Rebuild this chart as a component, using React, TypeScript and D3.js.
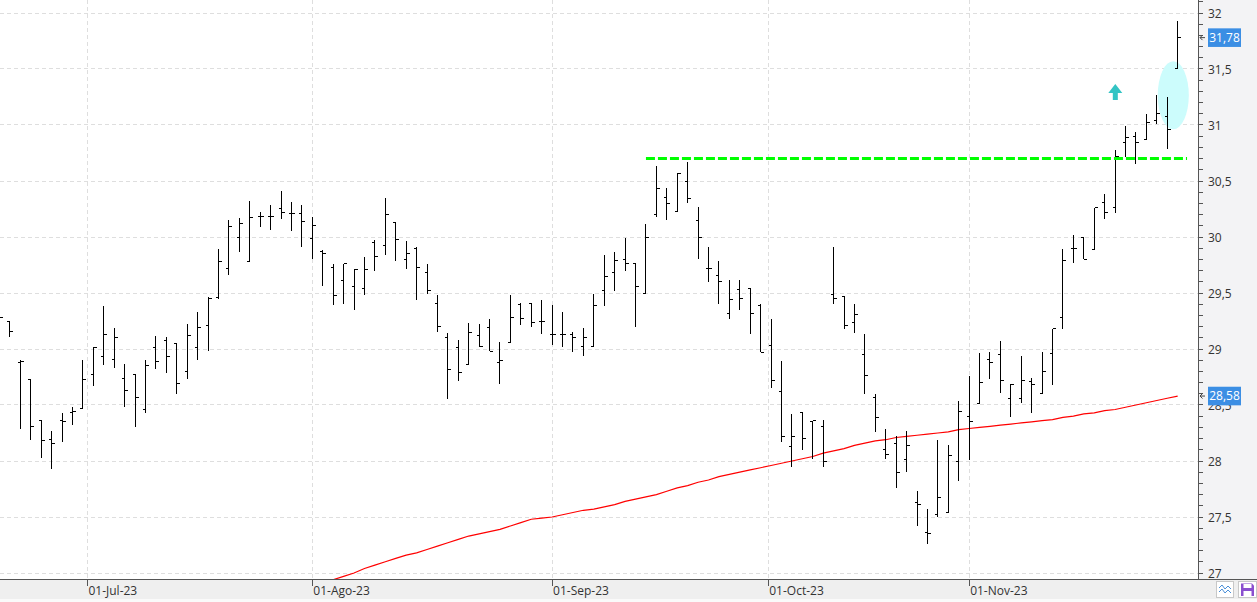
import React from "react";
import * as d3 from "d3";

// OHLC values, one per trading bar (index 0 is partially cut at the left edge)
const OPEN = [
  29.28, 29.25, 28.88, 28.73, 28.36, 28.19, 28.36, 28.43, 28.47, 28.77,
  28.93, 28.91, 28.74, 28.77, 28.46, 29.01, 29.08, 29.05, 28.8, 29.01,
  29.21, 29.46, 29.72, 30.0, 29.78, 30.18, 30.18, 30.25, 30.21, 30.21,
  29.99, 29.87, 29.73, 29.61, 29.56, 29.54, 29.95, 29.92, 30.13, 29.8,
  29.9, 29.68, 29.41, 29.1, 29.01, 28.86, 29.12, 29.19, 28.88, 29.06,
  29.4, 29.41, 29.25, 29.13, 29.13, 29.13, 29.02, 29.02, 29.52, 29.68,
  29.8, 29.76, 29.5, 30.2, 30.35, 30.23, 30.5, 30.15, 29.72, 29.66,
  29.32, 29.53, 29.54, 29.39, 29.03, 28.62, 28.13, 28.43, 28.35, 28.31,
  29.49, 29.47, 29.24, 28.95, 28.57, 28.1, 28.16, 28.01, 27.63, 27.36,
  27.52, 27.54, 28.0, 28.4, 28.51, 28.91, 28.95, 28.56, 28.56, 28.71,
  28.6, 28.96, 29.28, 29.9, 30.0, 29.89, 30.31, 30.26, 30.84, 30.9,
  30.87, 31.04, 31.08, 31.5,
];
const HIGH = [
  29.3, 29.25, 28.9, 28.73, 28.37, 28.27, 28.43, 28.48, 28.9, 29.02,
  29.38, 29.19, 28.87, 28.77, 28.9, 29.12, 29.11, 29.05, 29.22, 29.33,
  29.46, 29.89, 30.15, 30.17, 30.32, 30.22, 30.29, 30.41, 30.31, 30.29,
  30.18, 29.88, 29.76, 29.76, 29.71, 29.82, 29.97, 30.35, 30.13, 29.96,
  29.91, 29.76, 29.48, 29.14, 29.08, 29.23, 29.22, 29.27, 29.06, 29.48,
  29.41, 29.41, 29.44, 29.39, 29.33, 29.15, 29.19, 29.49, 29.84, 29.87,
  29.99, 29.76, 30.12, 30.63, 30.44, 30.57, 30.67, 30.27, 29.91, 29.79,
  29.62, 29.62, 29.54, 29.4, 29.27, 28.89, 28.42, 28.43, 28.36, 28.37,
  29.91, 29.47, 29.4, 29.13, 28.6, 28.29, 28.22, 28.27, 27.73, 27.57,
  28.19, 28.14, 28.54, 28.76, 28.96, 28.97, 29.07, 28.69, 28.94, 28.74,
  28.97, 29.18, 29.89, 30.02, 30.0, 30.26, 30.38, 30.78, 30.99, 30.94,
  31.1, 31.27, 31.25, 31.93,
];
const LOW = [
  29.2, 29.11, 28.29, 28.19, 28.03, 27.93, 28.17, 28.32, 28.47, 28.67,
  28.86, 28.83, 28.48, 28.3, 28.43, 28.82, 28.79, 28.6, 28.73, 28.9,
  28.98, 29.45, 29.66, 29.87, 29.78, 30.09, 30.06, 30.16, 30.05, 29.91,
  29.8, 29.56, 29.39, 29.4, 29.35, 29.48, 29.7, 29.84, 29.79, 29.71,
  29.44, 29.49, 29.15, 28.55, 28.71, 28.86, 29.02, 28.98, 28.69, 29.05,
  29.21, 29.2, 29.13, 29.04, 29.02, 28.97, 28.94, 29.02, 29.38, 29.52,
  29.7, 29.2, 29.5, 30.18, 30.15, 30.23, 30.3, 29.8, 29.6, 29.4,
  29.27, 29.35, 29.13, 28.97, 28.65, 28.17, 27.95, 28.1, 28.02, 27.95,
  29.4, 29.18, 29.14, 28.6, 28.26, 28.02, 27.76, 27.9, 27.42, 27.26,
  27.5, 27.54, 27.82, 28.01, 28.51, 28.73, 28.61, 28.39, 28.52, 28.43,
  28.6, 28.68, 29.18, 29.77, 29.8, 29.89, 30.16, 30.21, 30.71, 30.65,
  30.87, 31.01, 30.79, 31.5,
];
const CLOSE = [
  29.28, 29.16, 28.89, 28.31, 28.18, 28.16, 28.35, 28.44, 28.73, 29.01,
  29.13, 29.1, 28.63, 28.57, 28.85, 28.89, 28.93, 28.69, 29.12, 29.19,
  29.45, 29.78, 30.09, 30.12, 30.17, 30.18, 30.18, 30.22, 30.21, 30.14,
  30.1, 29.85, 29.48, 29.76, 29.71, 29.71, 29.83, 30.2, 29.98, 29.85,
  29.73, 29.52, 29.2, 28.82, 28.79, 29.15, 29.02, 28.98, 28.9, 29.28,
  29.27, 29.24, 29.25, 29.13, 29.13, 29.1, 29.1, 29.39, 29.65, 29.79,
  29.76, 29.56, 30.0, 30.43, 30.3, 30.57, 30.34, 30.0, 29.72, 29.6,
  29.44, 29.45, 29.32, 28.97, 28.72, 28.22, 28.22, 28.2, 28.36, 28.0,
  29.45, 29.21, 29.31, 28.76, 28.39, 28.06, 27.9, 28.14, 27.61, 27.35,
  27.67, 28.05, 28.44, 28.35, 28.7, 28.88, 28.72, 28.68, 28.72, 28.68,
  28.8, 29.18, 29.79, 29.9, 29.8, 30.26, 30.22, 30.72, 30.89, 30.84,
  31.02, 31.1, 30.96, 31.78,
];

// Moving average (red line), starting at bar MA_START
const MA_START = 31;
const MA = [
  26.91, 26.94, 26.97, 27.0, 27.04, 27.07, 27.1, 27.13, 27.16, 27.18,
  27.21, 27.24, 27.27, 27.3, 27.33, 27.35, 27.37, 27.39, 27.42, 27.45,
  27.48, 27.49, 27.5, 27.52, 27.54, 27.56, 27.57, 27.59, 27.61, 27.64,
  27.66, 27.68, 27.7, 27.73, 27.76, 27.78, 27.81, 27.83, 27.86, 27.88,
  27.9, 27.92, 27.94, 27.96, 27.98, 28.0, 28.02, 28.04, 28.07, 28.09,
  28.11, 28.14, 28.16, 28.18, 28.19, 28.21, 28.22, 28.23, 28.24, 28.25,
  28.26, 28.28, 28.29, 28.3, 28.31, 28.32, 28.33, 28.34, 28.35, 28.36,
  28.37, 28.39, 28.4, 28.42, 28.43, 28.45, 28.46, 28.48, 28.5, 28.52,
  28.54, 28.56, 28.58,
];

// X-axis month labels and their (fractional) bar positions
const MONTH_LABELS = ["01-Jul-23", "01-Ago-23", "01-Sep-23", "01-Oct-23", "01-Nov-23"];
const MONTH_POS = [8.43, 30.0, 53.0, 73.73, 93.0];

// Y-axis major tick values
const Y_TICKS = [27, 27.5, 28, 28.5, 29, 29.5, 30, 30.5, 31, 31.5, 32];

// Annotations (in data units)
const RESISTANCE = { level: 30.7, from: 62.0, to: 113.9 };
const HIGHLIGHT = { idx: 112.58, value: 31.266, rIdx: 1.49, rValue: 0.304 };
const UP_ARROW = { idx: 107.02, top: 31.366, bottom: 31.223 };

const FONT = "'Open Sans', 'Noto Sans', sans-serif";

export default function App() {
  const W = 1257;
  const H = 602;
  const plotRight = 1198;
  const plotBottom = 579;

  const x = d3.scaleLinear().domain([0, 113]).range([-0.43, 1177.65]);
  const y = d3.scaleLinear().domain([27, 32]).range([573, 13]);

  const crisp = (v: number) => Math.round(v - 0.5) + 0.5;

  // Bars path
  let barPath = "";
  for (let i = 0; i < CLOSE.length; i++) {
    const px = crisp(x(i));
    const yh = Math.round(y(HIGH[i]));
    const yl = Math.round(y(LOW[i]));
    const yo = crisp(y(OPEN[i]));
    const yc = crisp(y(CLOSE[i]));
    barPath += `M${px},${yh}V${Math.max(yl, yh + 1)}`;
    barPath += `M${px - 3},${yo}H${px}`;
    barPath += `M${px},${yc}H${px + 3}`;
  }

  const maLine = d3
    .line<number>()
    .x((_, k) => x(MA_START + k))
    .y((d) => y(d))(MA) as string;

  const minorTicks = d3.range(270, 322, 1).map((v) => v / 10);

  const fmt = (v: number) => String(v).replace(".", ",");

  const lastClose = CLOSE[CLOSE.length - 1];
  const lastMA = MA[MA.length - 1];

  const priceBox = (v: number, key: string) => {
    const yc = y(v);
    return (
      <g key={key}>
        <path
          d={`M1205,${yc}H1200M1202.5,${yc - 2.5}L1200,${yc}L1202.5,${yc + 2.5}`}
          stroke="#444"
          strokeWidth={1}
          fill="none"
        />
        <rect x={1208} y={yc - 9.3} width={33} height={18.6} fill="#3b8ee4" />
        <text
          x={1224.5}
          y={yc + 4.3}
          fill="#fff"
          fontSize={12}
          fontFamily={FONT}
          textAnchor="middle"
        >
          {fmt(v)}
        </text>
      </g>
    );
  };

  const ax = x(UP_ARROW.idx);
  const aTop = y(UP_ARROW.top);
  const aBot = y(UP_ARROW.bottom);
  const aHead = aTop + 9;

  return (
    <div style={{ position: "fixed", left: 0, top: 0 }}>
      <svg width={W} height={H} style={{ display: "block" }}>
        <defs>
          <clipPath id="plotClip">
            <rect x={0} y={0} width={plotRight} height={plotBottom} />
          </clipPath>
        </defs>
        <rect x={0} y={0} width={W} height={H} fill="#fff" />
        {/* right axis panel */}
        <rect x={plotRight + 1} y={0} width={W - plotRight - 1} height={plotBottom} fill="#f3f3f5" />
        {/* bottom axis band */}
        <rect x={0} y={plotBottom + 1} width={W} height={19} fill="#efefef" />
        <rect x={0} y={plotBottom + 20} width={W} height={H - plotBottom - 20} fill="#fafafa" />

        {/* grid */}
        <g stroke="#dedede" strokeWidth={1} strokeDasharray="4,3" shapeRendering="crispEdges">
          {Y_TICKS.map((v) => (
            <line key={`gy${v}`} x1={0} x2={plotRight} y1={crisp(y(v))} y2={crisp(y(v))} />
          ))}
          {MONTH_POS.map((p, k) => (
            <line key={`gx${k}`} x1={crisp(x(p))} x2={crisp(x(p))} y1={0} y2={plotBottom} />
          ))}
        </g>

        <g clipPath="url(#plotClip)">
          {/* highlight ellipse */}
          <ellipse
            cx={x(HIGHLIGHT.idx)}
            cy={y(HIGHLIGHT.value)}
            rx={x(HIGHLIGHT.idx + HIGHLIGHT.rIdx) - x(HIGHLIGHT.idx)}
            ry={y(HIGHLIGHT.value - HIGHLIGHT.rValue) - y(HIGHLIGHT.value)}
            fill="#ccfcfc"
          />
          {/* moving average */}
          <path d={maLine} fill="none" stroke="#ff0000" strokeWidth={1.2} />
          {/* OHLC bars */}
          <path d={barPath} fill="none" stroke="#000" strokeWidth={1} shapeRendering="crispEdges" />
          {/* resistance line */}
          <line
            x1={x(RESISTANCE.from)}
            x2={x(RESISTANCE.to)}
            y1={y(RESISTANCE.level)}
            y2={y(RESISTANCE.level)}
            stroke="#00ff00"
            strokeWidth={3}
            strokeDasharray="9,3"
          />
          {/* up arrow */}
          <path
            d={`M${ax},${aTop}L${ax + 7},${aHead}H${ax + 2.5}V${aBot}H${ax - 2.5}V${aHead}H${ax - 7}Z`}
            fill="#33c4c4"
          />
        </g>

        {/* axes */}
        <g stroke="#555" strokeWidth={1} shapeRendering="crispEdges">
          <line x1={0} x2={W} y1={plotBottom + 0.5} y2={plotBottom + 0.5} />
          <line x1={plotRight + 0.5} x2={plotRight + 0.5} y1={0} y2={plotBottom} />
          {minorTicks.map((v) => (
            <line key={`mt${v}`} x1={plotRight} x2={plotRight + 5} y1={crisp(y(v))} y2={crisp(y(v))} />
          ))}
          {MONTH_POS.map((p, k) => (
            <line key={`xt${k}`} x1={crisp(x(p))} x2={crisp(x(p))} y1={plotBottom} y2={plotBottom + 7} />
          ))}
        </g>

        {/* y tick labels */}
        <g fontFamily={FONT} fontSize={12} fill="#333">
          {Y_TICKS.map((v) => (
            <text key={`yl${v}`} x={1208} y={y(v) + 4.5}>
              {fmt(v)}
            </text>
          ))}
        </g>

        {/* x tick labels */}
        <g fontFamily={FONT} fontSize={12} fill="#333">
          {MONTH_LABELS.map((lab, k) => (
            <text key={`xl${k}`} x={x(MONTH_POS[k]) + 1} y={595}>
              {lab}
            </text>
          ))}
        </g>

        {/* price labels */}
        {priceBox(lastMA, "ma")}
        {priceBox(lastClose, "close")}

        {/* bottom-right icons */}
        <g>
          <rect x={1216.5} y={581.5} width={17} height={16} fill="#fff" stroke="#c8c8c8" />
          <path
            d="M1219,588 L1222,585 L1225,589 L1228,586 L1231,589 M1219,592 L1222,589 L1225,593 L1228,590 L1231,593"
            fill="none"
            stroke="#4a8fd8"
            strokeWidth={1}
          />
          <rect x={1238.5} y={581.5} width={18} height={16} fill="#fff" stroke="#c8c8c8" />
          <path d="M1241,583.5 H1252 L1254,585.5 V596 H1241 Z" fill="#8a4fcf" />
          <rect x={1243.5} y={584} width={8} height={4} fill="#fff" />
          <rect x={1243.5} y={591} width={8} height={5} fill="#fff" />
        </g>
      </svg>
    </div>
  );
}
